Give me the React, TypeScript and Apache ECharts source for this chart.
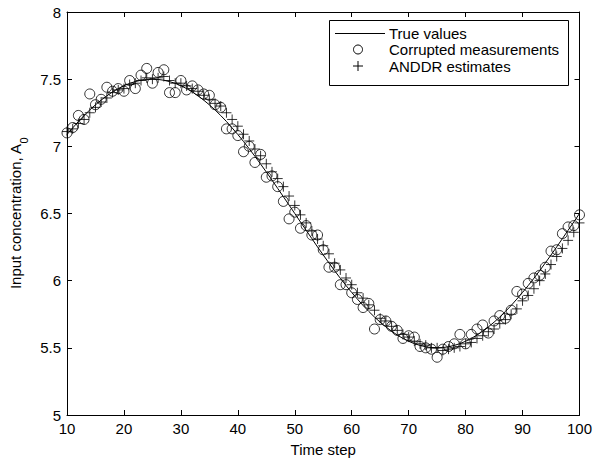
import React, { useEffect, useRef } from "react";
import * as echarts from "echarts";

const timeSteps = [
  10, 11, 12, 13, 14, 15, 16, 17, 18, 19, 20, 21, 22, 23, 24, 25, 26, 27, 28, 29,
  30, 31, 32, 33, 34, 35, 36, 37, 38, 39, 40, 41, 42, 43, 44, 45, 46, 47, 48, 49,
  50, 51, 52, 53, 54, 55, 56, 57, 58, 59, 60, 61, 62, 63, 64, 65, 66, 67, 68, 69,
  70, 71, 72, 73, 74, 75, 76, 77, 78, 79, 80, 81, 82, 83, 84, 85, 86, 87, 88, 89,
  90, 91, 92, 93, 94, 95, 96, 97, 98, 99, 100,
];

const trueValues = [
  7.088, 7.137, 7.185, 7.229, 7.271, 7.309, 7.344, 7.376, 7.405, 7.43, 7.451, 7.469, 7.482, 7.492, 7.498, 7.5, 7.498, 7.492, 7.482, 7.469,
  7.451, 7.43, 7.405, 7.376, 7.344, 7.309, 7.271, 7.229, 7.185, 7.137, 7.088, 7.036, 6.982, 6.926, 6.868, 6.809, 6.749, 6.687, 6.625, 6.563,
  6.5, 6.437, 6.375, 6.313, 6.251, 6.191, 6.132, 6.074, 6.018, 5.964, 5.912, 5.863, 5.815, 5.771, 5.729, 5.691, 5.656, 5.624, 5.595, 5.57,
  5.549, 5.531, 5.518, 5.508, 5.502, 5.5, 5.502, 5.508, 5.518, 5.531, 5.549, 5.57, 5.595, 5.624, 5.656, 5.691, 5.729, 5.771, 5.815, 5.863,
  5.912, 5.964, 6.018, 6.074, 6.132, 6.191, 6.251, 6.313, 6.375, 6.437, 6.5,
];

const measurements = [
  7.1, 7.14, 7.23, 7.2, 7.39, 7.31, 7.35, 7.44, 7.41, 7.43, 7.41, 7.49, 7.43, 7.53, 7.58, 7.47, 7.55, 7.57, 7.4, 7.4,
  7.49, 7.42, 7.45, 7.42, 7.39, 7.38, 7.31, 7.29, 7.13, 7.13, 7.08, 6.96, 7.0, 6.88, 6.94, 6.77, 6.78, 6.7, 6.59, 6.46,
  6.51, 6.39, 6.41, 6.34, 6.34, 6.23, 6.1, 6.1, 5.97, 5.97, 5.91, 5.86, 5.8, 5.83, 5.64, 5.71, 5.7, 5.66, 5.63, 5.57,
  5.59, 5.58, 5.51, 5.5, 5.49, 5.43, 5.49, 5.51, 5.53, 5.6, 5.53, 5.6, 5.64, 5.67, 5.61, 5.7, 5.74, 5.72, 5.78, 5.92,
  5.9, 5.98, 6.02, 6.04, 6.1, 6.22, 6.23, 6.35, 6.4, 6.41, 6.49,
];

const estimates = [
  7.11, 7.13, 7.17, 7.2, 7.25, 7.29, 7.33, 7.36, 7.4, 7.42, 7.43, 7.46, 7.47, 7.49, 7.51, 7.5, 7.51, 7.52, 7.49, 7.47,
  7.47, 7.45, 7.43, 7.41, 7.38, 7.35, 7.32, 7.3, 7.25, 7.2, 7.15, 7.09, 7.04, 6.98, 6.93, 6.87, 6.81, 6.76, 6.7, 6.63,
  6.56, 6.49, 6.43, 6.37, 6.31, 6.26, 6.2, 6.13, 6.08, 6.02, 5.97, 5.91, 5.87, 5.82, 5.78, 5.72, 5.7, 5.66, 5.63, 5.6,
  5.58, 5.55, 5.53, 5.52, 5.5, 5.5, 5.48, 5.49, 5.5, 5.51, 5.53, 5.54, 5.57, 5.59, 5.62, 5.64, 5.68, 5.71, 5.75, 5.79,
  5.85, 5.89, 5.94, 6.0, 6.05, 6.12, 6.18, 6.24, 6.3, 6.36, 6.43,
];

const legendLabels = ["True values", "Corrupted measurements", "ANDDR estimates"];
const xAxisTitle = "Time step";
const yAxisTitle = "Input concentration, A{sub|0}";

const FONT = "'Liberation Sans', Arial, Helvetica, sans-serif";
const FS = 15;

export default function App() {
  const ref = useRef<HTMLDivElement>(null);

  useEffect(() => {
    document.body.style.margin = "0";
    if (!ref.current) return;
    const chart = echarts.init(ref.current, undefined, { renderer: "svg" });

    const pair = (ys: number[]) => timeSteps.map((t, i) => [t, ys[i]]);

    const baseX = {
      type: "value" as const,
      min: 10,
      max: 100,
      interval: 10,
      splitLine: { show: false },
      axisLine: { show: true, onZero: false, lineStyle: { color: "#000", width: 1 } },
      axisTick: { show: true, inside: true, length: 5, lineStyle: { color: "#000" } },
    };
    const baseY = {
      type: "value" as const,
      min: 5,
      max: 8,
      interval: 0.5,
      splitLine: { show: false },
      axisLine: { show: true, onZero: false, lineStyle: { color: "#000", width: 1 } },
      axisTick: { show: true, inside: true, length: 5, lineStyle: { color: "#000" } },
    };

    const lx = 329, ly = 20, lw = 239, lh = 65;
    const rows = [33, 49.5, 66];
    const symX = 358;

    chart.setOption({
      animation: false,
      backgroundColor: "#fff",
      textStyle: { fontFamily: FONT },
      grid: { left: 66, right: 14, top: 12, bottom: 44, containLabel: false },
      xAxis: [
        {
          ...baseX,
          position: "bottom",
          name: xAxisTitle,
          nameLocation: "middle",
          nameGap: 27,
          nameTextStyle: { color: "#000", fontSize: FS, fontFamily: FONT },
          axisLabel: { color: "#000", fontSize: FS, margin: 6, fontFamily: FONT },
        },
        { ...baseX, position: "top", axisLabel: { show: false } },
      ],
      yAxis: [
        {
          ...baseY,
          position: "left",
          name: yAxisTitle,
          nameLocation: "middle",
          nameGap: 44,
          nameTextStyle: {
            color: "#000",
            fontSize: FS,
            fontFamily: FONT,
            rich: {
              sub: { fontSize: 11, verticalAlign: "bottom", padding: [0, 0, -6, 0], color: "#000", fontFamily: FONT },
            },
          },
          axisLabel: { color: "#000", fontSize: FS, margin: 6, fontFamily: FONT },
        },
        { ...baseY, position: "right", axisLabel: { show: false } },
      ],
      series: [
        {
          name: legendLabels[0],
          type: "line",
          xAxisIndex: 0,
          yAxisIndex: 0,
          data: pair(trueValues),
          symbol: "none",
          lineStyle: { color: "#000", width: 1 },
          z: 2,
        },
        {
          name: legendLabels[1],
          type: "scatter",
          xAxisIndex: 0,
          yAxisIndex: 0,
          data: pair(measurements),
          symbol: "circle",
          symbolSize: 10,
          itemStyle: { color: "rgba(0,0,0,0)", borderColor: "#000", borderWidth: 1 },
          z: 3,
        },
        {
          name: legendLabels[2],
          type: "scatter",
          xAxisIndex: 0,
          yAxisIndex: 0,
          data: pair(estimates),
          symbol: "path://M5 0L5 10M0 5L10 5",
          symbolSize: 10,
          itemStyle: { color: "rgba(0,0,0,0)", borderColor: "#000", borderWidth: 1 },
          z: 4,
        },
      ],
      graphic: [
        {
          type: "group",
          z: 100,
          children: [
            {
              type: "rect",
              shape: { x: lx + 0.5, y: ly + 0.5, width: lw, height: lh },
              style: { fill: "#fff", stroke: "#000", lineWidth: 1 },
            },
            {
              type: "line",
              shape: { x1: 335, y1: rows[0] + 0.5, x2: 385, y2: rows[0] + 0.5 },
              style: { stroke: "#000", lineWidth: 1 },
            },
            {
              type: "circle",
              shape: { cx: symX, cy: rows[1], r: 4.5 },
              style: { fill: "none", stroke: "#000", lineWidth: 1 },
            },
            {
              type: "line",
              shape: { x1: symX - 5, y1: rows[2], x2: symX + 5, y2: rows[2] },
              style: { stroke: "#000", lineWidth: 1 },
            },
            {
              type: "line",
              shape: { x1: symX, y1: rows[2] - 5, x2: symX, y2: rows[2] + 5 },
              style: { stroke: "#000", lineWidth: 1 },
            },
            ...legendLabels.map((txt, i) => ({
              type: "text",
              x: 389,
              y: rows[i],
              style: {
                text: txt,
                fill: "#000",
                font: `${FS}px ${FONT}`,
                verticalAlign: "middle",
                align: "left",
              },
            })),
          ],
        },
      ],
    });

    return () => chart.dispose();
  }, []);

  return <div ref={ref} style={{ width: 595, height: 462 }} />;
}
